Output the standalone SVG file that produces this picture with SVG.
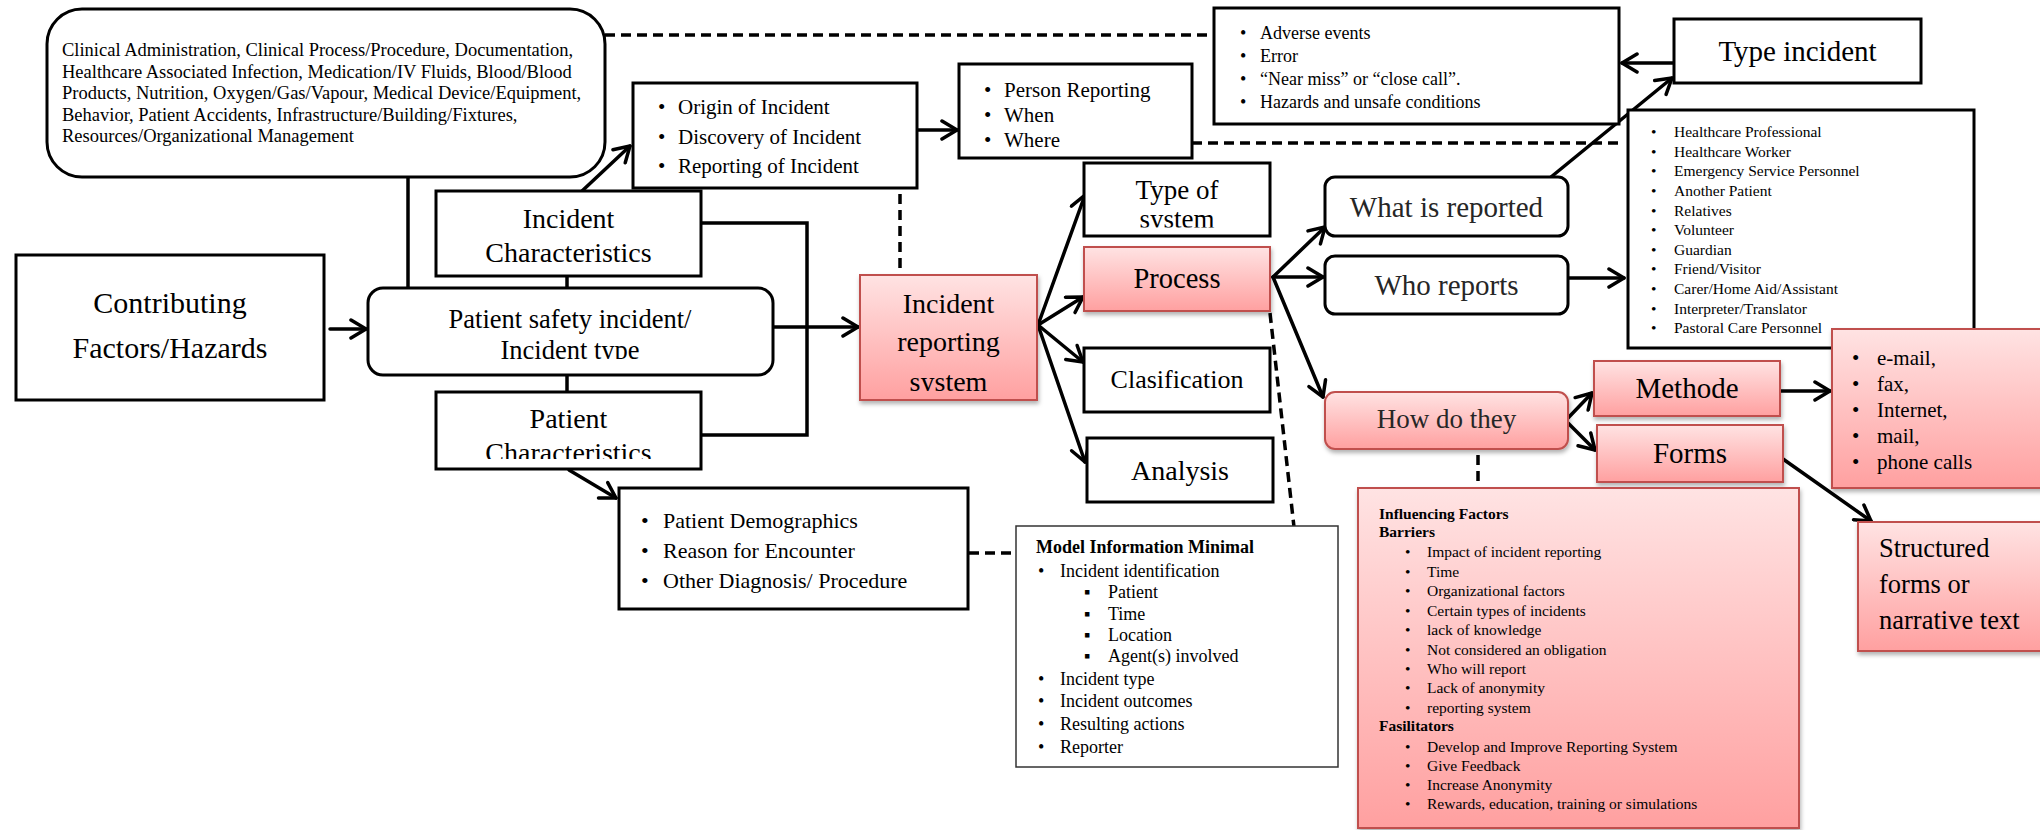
<svg xmlns="http://www.w3.org/2000/svg" width="2040" height="830" viewBox="0 0 2040 830">
<defs>
<style>
text{font-family:"Liberation Serif","Times New Roman",serif;fill:#000}
.box{fill:#fff;stroke:#000;stroke-width:3}
.thin{fill:#fff;stroke:#333;stroke-width:1.5}
.pink{fill:url(#pg);stroke:#C0504D;stroke-width:2;filter:url(#sh)}
.ln{stroke:#000;stroke-width:3.5;fill:none;stroke-linecap:round}
.arr{marker-end:url(#ah)}
.dash{stroke:#000;stroke-width:3.5;fill:none;stroke-dasharray:10 6}
.c{text-anchor:middle}
.g{fill:#262626}
.b{font-weight:bold}
</style>
<linearGradient id="pg" x1="0" y1="0" x2="0" y2="1">
<stop offset="0" stop-color="#FFE3E3"/>
<stop offset="1" stop-color="#FFA0A0"/>
</linearGradient>
<filter id="sh" x="-10%" y="-10%" width="125%" height="135%">
<feDropShadow dx="1" dy="3" stdDeviation="2" flood-color="#000" flood-opacity="0.3"/>
</filter>
<marker id="ah" viewBox="0 0 20 22" refX="18" refY="11" markerWidth="20" markerHeight="22" markerUnits="userSpaceOnUse" orient="auto">
<path d="M3,2 L18,11 L3,20" fill="none" stroke="#000" stroke-width="3.5" stroke-linecap="round" stroke-linejoin="round"/>
</marker>
<clipPath id="cp1"><rect x="368" y="288" width="405" height="71"/></clipPath>
<clipPath id="cp2"><rect x="436" y="392" width="265" height="67"/></clipPath>
<clipPath id="cp3"><rect x="860" y="275" width="177" height="116"/></clipPath>
<clipPath id="cp4"><rect x="1084" y="163" width="186" height="64.5"/></clipPath>
</defs>
<rect width="2040" height="830" fill="#fff"/>

<g id="connectors">
<path class="dash" d="M605,35 L1214,35"/>
<path class="dash" d="M1192,143 L1620,143"/>
<path class="dash" d="M900,178 L900,275"/>
<path class="dash" d="M969,553 L1016,553"/>
<path class="dash" d="M1270,313 L1294,527"/>
<path class="dash" d="M1478,455 L1478,488"/>
<path class="ln arr" d="M330,329 L366,329"/>
<path class="ln arr" d="M773,327 L858,327"/>
<path class="ln" d="M701,223 L807,223 L807,435 L701,435"/>
<path class="ln" d="M408,177 L408,288"/>
<path class="ln" d="M567,265 L567,288"/>
<path class="ln" d="M567,367 L567,392"/>
<path class="ln arr" d="M582,191 L630,146"/>
<path class="ln arr" d="M917,130 L957,130"/>
<path class="ln arr" d="M569,470 L616,498"/>
<path class="ln arr" d="M1038,325 L1085,195"/>
<path class="ln arr" d="M1038,325 L1083,297"/>
<path class="ln arr" d="M1038,325 L1083,362"/>
<path class="ln arr" d="M1038,325 L1085,462"/>
<path class="ln arr" d="M1273,277 L1325,227"/>
<path class="ln arr" d="M1273,277 L1323,277"/>
<path class="ln arr" d="M1273,277 L1323,397"/>
<path class="ln arr" d="M1568,278 L1624,278"/>
<path class="ln arr" d="M1551,177 L1672,78"/>
<path class="ln arr" d="M1674,63 L1622,63"/>
<path class="ln arr" d="M1568,418 L1592,393"/>
<path class="ln arr" d="M1568,423 L1595,450"/>
<path class="ln arr" d="M1780,391 L1830,391"/>
<path class="ln arr" d="M1783,459 L1871,521"/>
</g>

<g id="clinical">
<rect class="box" x="47" y="9" width="558" height="168" rx="35"/>
<g font-size="18.5">
<text x="62" y="56">Clinical Administration, Clinical Process/Procedure, Documentation,</text>
<text x="62" y="77.5">Healthcare Associated Infection, Medication/IV Fluids, Blood/Blood</text>
<text x="62" y="99">Products, Nutrition, Oxygen/Gas/Vapour, Medical Device/Equipment,</text>
<text x="62" y="120.5">Behavior, Patient Accidents, Infrastructure/Building/Fixtures,</text>
<text x="62" y="142">Resources/Organizational Management</text>
</g>
</g>

<g id="contributing">
<rect class="box" x="16" y="255" width="308" height="145"/>
<text class="c" x="170" y="313" font-size="30">Contributing</text>
<text class="c" x="170" y="358" font-size="30">Factors/Hazards</text>
</g>

<g id="patient-safety">
<rect class="box" x="368" y="288" width="405" height="87" rx="15"/>
<g clip-path="url(#cp1)" font-size="26.5">
<text class="c" x="570" y="328">Patient safety incident/</text>
<text class="c" x="570" y="358.5">Incident type</text>
</g>
</g>

<g id="incident-char">
<rect class="box" x="436" y="191" width="265" height="85"/>
<text class="c" x="568.5" y="228" font-size="28">Incident</text>
<text class="c" x="568.5" y="262" font-size="28">Characteristics</text>
</g>

<g id="patient-char">
<rect class="box" x="436" y="392" width="265" height="77"/>
<g clip-path="url(#cp2)" font-size="28">
<text class="c" x="568.5" y="428">Patient</text>
<text class="c" x="568.5" y="462">Characteristics</text>
</g>
</g>

<g id="origin">
<rect class="box" x="633" y="83" width="284" height="105"/>
<g font-size="21">
<text x="658" y="114">•</text><text x="678" y="114">Origin of Incident</text>
<text x="658" y="144">•</text><text x="678" y="144">Discovery of Incident</text>
<text x="658" y="173">•</text><text x="678" y="173">Reporting of Incident</text>
</g>
</g>

<g id="person-reporting">
<rect class="box" x="959" y="64" width="233" height="94"/>
<g font-size="21">
<text x="984" y="97">•</text><text x="1004" y="97">Person Reporting</text>
<text x="984" y="122">•</text><text x="1004" y="122">When</text>
<text x="984" y="147">•</text><text x="1004" y="147">Where</text>
</g>
</g>

<g id="adverse">
<rect class="box" x="1214" y="8" width="405" height="116"/>
<g font-size="18">
<text x="1240" y="39">•</text><text x="1260" y="39">Adverse events</text>
<text x="1240" y="62">•</text><text x="1260" y="62">Error</text>
<text x="1240" y="85">•</text><text x="1260" y="85">“Near miss” or “close call”.</text>
<text x="1240" y="108">•</text><text x="1260" y="108">Hazards and unsafe conditions</text>
</g>
</g>

<g id="type-incident">
<rect class="box" x="1674" y="19" width="247" height="64"/>
<text class="c" x="1797.5" y="61" font-size="29">Type incident</text>
</g>

<g id="healthcare-list">
<rect class="box" x="1628" y="110" width="346" height="238"/>
<g font-size="15.5">
<text x="1651" y="137">•</text><text x="1674" y="137">Healthcare Professional</text>
<text x="1651" y="157">•</text><text x="1674" y="157">Healthcare Worker</text>
<text x="1651" y="176">•</text><text x="1674" y="176">Emergency Service Personnel</text>
<text x="1651" y="196">•</text><text x="1674" y="196">Another Patient</text>
<text x="1651" y="216">•</text><text x="1674" y="216">Relatives</text>
<text x="1651" y="235">•</text><text x="1674" y="235">Volunteer</text>
<text x="1651" y="255">•</text><text x="1674" y="255">Guardian</text>
<text x="1651" y="274">•</text><text x="1674" y="274">Friend/Visitor</text>
<text x="1651" y="294">•</text><text x="1674" y="294">Carer/Home Aid/Assistant</text>
<text x="1651" y="314">•</text><text x="1674" y="314">Interpreter/Translator</text>
<text x="1651" y="333">•</text><text x="1674" y="333">Pastoral Care Personnel</text>
</g>
</g>

<g id="incident-reporting-system">
<rect class="pink" x="860" y="275" width="177" height="125"/>
<g clip-path="url(#cp3)" font-size="28">
<text class="c" x="948.5" y="313">Incident</text>
<text class="c" x="948.5" y="351">reporting</text>
<text class="c" x="948.5" y="391">system</text>
</g>
</g>

<g id="type-of-system">
<rect class="box" x="1084" y="163" width="186" height="73"/>
<text class="c" x="1177" y="199" font-size="27">Type of</text>
<g clip-path="url(#cp4)"><text class="c" x="1177" y="228" font-size="27">system</text></g>
</g>

<g id="process">
<rect class="pink" x="1084" y="247" width="186" height="64"/>
<text class="c" x="1177" y="288" font-size="28.5">Process</text>
</g>

<g id="clasification">
<rect class="box" x="1084" y="348" width="186" height="64"/>
<text class="c" x="1177" y="388" font-size="26">Clasification</text>
</g>

<g id="analysis">
<rect class="box" x="1087" y="438" width="186" height="64"/>
<text class="c" x="1180" y="480" font-size="28">Analysis</text>
</g>

<g id="what-reported">
<rect class="box" x="1325" y="177" width="243" height="59" rx="10"/>
<text class="c g" x="1446.5" y="217" font-size="29">What is reported</text>
</g>

<g id="who-reports">
<rect class="box" x="1325" y="256" width="243" height="58" rx="10"/>
<text class="c g" x="1446.5" y="295" font-size="29">Who reports</text>
</g>

<g id="how-do-they">
<rect class="pink" x="1325" y="392" width="243" height="57" rx="10"/>
<text class="c g" x="1446.5" y="428" font-size="27">How do they</text>
</g>

<g id="methode">
<rect class="pink" x="1594" y="361" width="186" height="55"/>
<text class="c" x="1687" y="398" font-size="29">Methode</text>
</g>

<g id="forms">
<rect class="pink" x="1597" y="425" width="186" height="57"/>
<text class="c" x="1690" y="463" font-size="29">Forms</text>
</g>

<g id="methods-list">
<rect class="pink" x="1832" y="329" width="220" height="159"/>
<g font-size="21" class="g">
<text x="1852" y="365">•</text><text x="1877" y="365">e-mail,</text>
<text x="1852" y="391">•</text><text x="1877" y="391">fax,</text>
<text x="1852" y="417">•</text><text x="1877" y="417">Internet,</text>
<text x="1852" y="443">•</text><text x="1877" y="443">mail,</text>
<text x="1852" y="469">•</text><text x="1877" y="469">phone calls</text>
</g>
</g>

<g id="structured">
<rect class="pink" x="1858" y="522" width="194" height="129"/>
<g font-size="26.5" class="g">
<text x="1879" y="557">Structured</text>
<text x="1879" y="593">forms or</text>
<text x="1879" y="629">narrative text</text>
</g>
</g>

<g id="demographics">
<rect class="box" x="619" y="488" width="349" height="121"/>
<g font-size="22">
<text x="641" y="528">•</text><text x="663" y="528">Patient Demographics</text>
<text x="641" y="558">•</text><text x="663" y="558">Reason for Encounter</text>
<text x="641" y="588">•</text><text x="663" y="588">Other Diagnosis/ Procedure</text>
</g>
</g>

<g id="model-info">
<rect class="thin" x="1016" y="526" width="322" height="241"/>
<g font-size="18">
<text class="b" x="1036" y="553">Model Information Minimal</text>
<text x="1038" y="577">•</text><text x="1060" y="577">Incident identification</text>
<text x="1084" y="598">▪</text><text x="1108" y="598">Patient</text>
<text x="1084" y="620">▪</text><text x="1108" y="620">Time</text>
<text x="1084" y="641">▪</text><text x="1108" y="641">Location</text>
<text x="1084" y="662">▪</text><text x="1108" y="662">Agent(s) involved</text>
<text x="1038" y="685">•</text><text x="1060" y="685">Incident type</text>
<text x="1038" y="707">•</text><text x="1060" y="707">Incident outcomes</text>
<text x="1038" y="730">•</text><text x="1060" y="730">Resulting actions</text>
<text x="1038" y="753">•</text><text x="1060" y="753">Reporter</text>
</g>
</g>

<g id="influencing">
<rect class="pink" x="1358" y="488" width="441" height="340"/>
<g font-size="15.5">
<text class="b" x="1379" y="519">Influencing Factors</text>
<text class="b" x="1379" y="537">Barriers</text>
<text x="1405" y="557">•</text><text x="1427" y="557">Impact of incident reporting</text>
<text x="1405" y="577">•</text><text x="1427" y="577">Time</text>
<text x="1405" y="596">•</text><text x="1427" y="596">Organizational factors</text>
<text x="1405" y="616">•</text><text x="1427" y="616">Certain types of incidents</text>
<text x="1405" y="635">•</text><text x="1427" y="635">lack of knowledge</text>
<text x="1405" y="655">•</text><text x="1427" y="655">Not considered an obligation</text>
<text x="1405" y="674">•</text><text x="1427" y="674">Who will report</text>
<text x="1405" y="693">•</text><text x="1427" y="693">Lack of anonymity</text>
<text x="1405" y="713">•</text><text x="1427" y="713">reporting system</text>
<text class="b" x="1379" y="731">Fasilitators</text>
<text x="1405" y="752">•</text><text x="1427" y="752">Develop and Improve Reporting System</text>
<text x="1405" y="771">•</text><text x="1427" y="771">Give Feedback</text>
<text x="1405" y="790">•</text><text x="1427" y="790">Increase Anonymity</text>
<text x="1405" y="809">•</text><text x="1427" y="809">Rewards, education, training or simulations</text>
</g>
</g>
</svg>
